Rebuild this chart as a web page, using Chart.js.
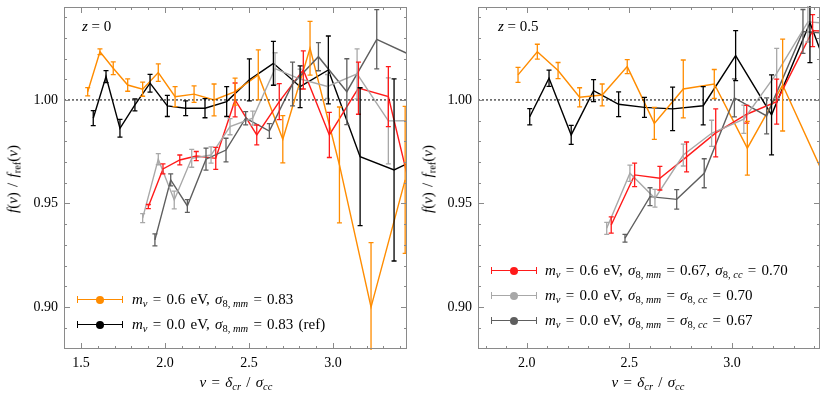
<!DOCTYPE html>
<html>
<head>
<meta charset="utf-8">
<script src="https://cdn.jsdelivr.net/npm/chart.js@4.4.1/dist/chart.umd.min.js"></script>
<style>
  body { margin: 0; background: #fff; }
  #wrap { position: relative; width: 826px; height: 398px; font-family: "Liberation Serif", "DejaVu Serif", serif; color: #000; }
  canvas { position: absolute; top: 0; }
  .lbl { position: absolute; font-size: 15px; line-height: 1; white-space: nowrap; word-spacing: 1.5px; }
  .lbl sub { font-size: 10.5px; vertical-align: -3px; line-height: 0; word-spacing: 0; }
  .rot { transform: translate(-50%, -50%) rotate(-90deg); }
  .ctr { transform: translate(-50%, -50%); }
  .mk { position: absolute; width: 46px; height: 8px; }
  .mk .ln { position: absolute; left: 0; right: 0; top: 3px; border-top: 1.3px solid; }
  .mk .cp { position: absolute; top: 0; height: 7px; border-left: 1.3px solid; }
  .mk .dot { position: absolute; left: 19px; top: 0; width: 8px; height: 8px; border-radius: 50%; }
</style>
</head>
<body>
<div id="wrap">
  <canvas id="left" width="413" height="398" style="left:0"></canvas>
  <canvas id="right" width="413" height="398" style="left:413px"></canvas>
</div>
<script>
// ---------------- DATA ----------------
// left panel, z = 0
const lOrangeX = [1.540, 1.613, 1.692, 1.778, 1.867, 1.960, 2.060, 2.173, 2.292, 2.417, 2.555, 2.701, 2.863, 3.038, 3.226, 3.429];
const lOrangeY = [1.0040, 1.0233, 1.0153, 1.0072, 1.0052, 1.0132, 1.0016, 1.0028, 1.0000, 1.0040, 1.0121, 0.9810, 1.0250, 0.9686, 0.8999, 0.9614];
const lOrangeE = [0.0020, 0.0014, 0.0031, 0.0030, 0.0034, 0.0042, 0.0048, 0.0040, 0.0077, 0.0065, 0.0121, 0.0114, 0.0130, 0.0280, 0.0312, 0.0355];

const lBlackX = [1.573, 1.649, 1.732, 1.821, 1.911, 2.014, 2.123, 2.238, 2.367, 2.502, 2.645, 2.804, 2.972, 3.161, 3.363, 3.520];
const lBlackY = [0.9912, 1.0113, 0.9863, 0.9976, 1.0081, 0.9971, 0.9960, 0.9960, 0.9992, 1.0097, 1.0177, 1.0064, 1.0145, 0.9726, 0.9662, 0.9722];
const lBlackE = [0.0036, 0.0029, 0.0043, 0.0029, 0.0043, 0.0051, 0.0036, 0.0046, 0.0072, 0.0101, 0.0106, 0.0101, 0.0164, 0.0333, 0.0440, 0];

const lRedX = [1.901, 1.988, 2.088, 2.186, 2.302, 2.417, 2.546, 2.680, 2.823, 2.978, 3.151, 3.329, 3.520];
const lRedY = [0.9485, 0.9667, 0.9710, 0.9729, 0.9718, 1.0000, 0.9831, 0.9992, 1.0145, 0.9831, 1.0057, 1.0016, 0.9370];
const lRedE = [0.0010, 0.0024, 0.0024, 0.0022, 0.0053, 0.0082, 0.0048, 0.0087, 0.0092, 0.0109, 0.0126, 0.0145, 0];

const lLightX = [1.867, 1.960, 2.055, 2.159, 2.274, 2.387, 2.522, 2.655, 2.804, 2.967, 3.143, 3.329, 3.480];
const lLightY = [0.9429, 0.9714, 0.9517, 0.9718, 0.9734, 0.9871, 0.9912, 1.0151, 1.0101, 1.0065, 1.0126, 0.9899, 0.9900];
const lLightE = [0.0022, 0.0027, 0.0043, 0.0043, 0.0039, 0.0039, 0.0034, 0.0077, 0.0048, 0.0058, 0.0121, 0.0208, 0];

const lDarkX = [1.940, 2.034, 2.133, 2.244, 2.363, 2.480, 2.621, 2.759, 2.913, 3.082, 3.260, 3.480];
const lDarkY = [0.9324, 0.9614, 0.9488, 0.9714, 0.9758, 0.9912, 0.9850, 1.0077, 1.0209, 1.0040, 1.0293, 1.0210];
const lDarkE = [0.0029, 0.0029, 0.0031, 0.0053, 0.0057, 0.0032, 0.0036, 0.0106, 0.0068, 0.0159, 0.0143, 0];

// right panel, z = 0.5
const rOrangeX = [1.958, 2.052, 2.153, 2.258, 2.368, 2.490, 2.622, 2.763, 2.914, 3.075, 3.247, 3.443];
const rOrangeY = [1.0121, 1.0233, 1.0142, 1.0013, 1.0024, 1.0161, 0.9887, 1.0053, 1.0077, 0.9767, 1.0072, 0.9647];
const rOrangeE = [0.0036, 0.0036, 0.0039, 0.0046, 0.0053, 0.0034, 0.0077, 0.0140, 0.0070, 0.0130, 0.0222, 0.0227];

const rBlackX = [2.015, 2.109, 2.217, 2.326, 2.448, 2.574, 2.711, 2.860, 3.018, 3.193, 3.380, 3.477];
const rBlackY = [0.9919, 1.0105, 0.9831, 1.0045, 0.9979, 0.9964, 0.9957, 0.9972, 1.0214, 0.9928, 1.0373, 1.0116];
const rBlackE = [0.0039, 0.0039, 0.0046, 0.0053, 0.0060, 0.0048, 0.0105, 0.0092, 0.0121, 0.0193, 0.0193, 0];

const rRedX = [2.412, 2.526, 2.649, 2.779, 2.921, 3.072, 3.218, 3.393, 3.500];
const rRedY = [0.9396, 0.9638, 0.9622, 0.9725, 0.9841, 0.9931, 0.9992, 1.0335, 1.0330];
const rRedE = [0.0039, 0.0057, 0.0057, 0.0072, 0.0116, 0.0043, 0.0109, 0.0077, 0];

const rLightX = [2.390, 2.503, 2.625, 2.763, 2.901, 3.058, 3.218, 3.370, 3.480];
const rLightY = [0.9380, 0.9646, 0.9525, 0.9734, 0.9839, 0.9907, 1.0128, 1.0377, 1.0370];
const rLightE = [0.0029, 0.0039, 0.0043, 0.0053, 0.0063, 0.0068, 0.0121, 0.0097, 0];

const rDarkX = [2.479, 2.601, 2.731, 2.865, 3.012, 3.169, 3.346, 3.477];
const rDarkY = [0.9332, 0.9533, 0.9520, 0.9646, 1.0010, 0.9923, 1.0331, 1.0320];
const rDarkE = [0.0019, 0.0043, 0.0047, 0.0070, 0.0092, 0.0087, 0.0106, 0];

const xTickVals = [1.5, 2.0, 2.5, 3.0];
const yTickVals = [0.90, 0.95, 1.00];

const ORANGE = "#ff8c00", BLACK = "#000000", RED = "#ff1a1a", LIGHT = "#a8a8a8", DARK = "#5e5e5e";

// ---------------- HELPERS ----------------

function pts(xs, ys) {
    return xs.map((x, i) => ({ x: x, y: ys[i] }));
}

function series(xs, ys, errs, color) {
    return {
        data: pts(xs, ys),
        errs: errs,
        borderColor: color,
        borderWidth: 1.4,
        pointRadius: 0,
        tension: 0,
        fill: false
    };
}

// error bars, frame and inward ticks
const decorations = {
    id: "decorations",
    afterDatasetsDraw(chart) {
        const { ctx, chartArea: a, scales: { x, y } } = chart;
        ctx.save();
        ctx.beginPath();
        ctx.rect(a.left, a.top - 1, a.right - a.left, a.bottom - a.top + 2);
        ctx.clip();
        chart.data.datasets.forEach(ds => {
            if (!ds.errs) return;
            ctx.strokeStyle = ds.borderColor;
            ctx.lineWidth = 1.3;
            ds.data.forEach((p, i) => {
                const e = ds.errs[i];
                if (!e) return;
                const px = x.getPixelForValue(p.x);
                const y1 = y.getPixelForValue(p.y + e);
                const y2 = y.getPixelForValue(p.y - e);
                ctx.beginPath();
                ctx.moveTo(px, y1); ctx.lineTo(px, y2);
                ctx.moveTo(px - 2.5, y1); ctx.lineTo(px + 2.5, y1);
                ctx.moveTo(px - 2.5, y2); ctx.lineTo(px + 2.5, y2);
                ctx.stroke();
            });
        });
        ctx.restore();

        ctx.save();
        ctx.strokeStyle = "#8a8a8a";
        ctx.lineWidth = 1;
        ctx.strokeRect(a.left + 0.5, a.top + 0.5, a.right - a.left - 1, a.bottom - a.top - 1);
        ctx.beginPath();
        for (let i = Math.ceil(x.min * 10); i <= Math.floor(x.max * 10); i++) {
            const px = Math.round(x.getPixelForValue(i / 10)) + 0.5;
            const len = i % 5 === 0 ? 6 : 3;
            ctx.moveTo(px, a.bottom); ctx.lineTo(px, a.bottom - len);
            ctx.moveTo(px, a.top); ctx.lineTo(px, a.top + len);
        }
        for (let i = Math.ceil(y.min * 100); i <= Math.floor(y.max * 100); i++) {
            const py = Math.round(y.getPixelForValue(i / 100)) + 0.5;
            const len = i % 5 === 0 ? 6 : 3;
            ctx.moveTo(a.left, py); ctx.lineTo(a.left + len, py);
            ctx.moveTo(a.right, py); ctx.lineTo(a.right - len, py);
        }
        ctx.stroke();
        ctx.restore();
    }
};

function makePanel(id, xmin, xmax, yAxisWidth, sets) {
    const font = { family: "'Liberation Serif', serif", size: 14 };
    const unity = {
        data: [{ x: xmin, y: 1 }, { x: xmax, y: 1 }],
        borderColor: "#000",
        borderWidth: 1,
        borderDash: [2, 2],
        pointRadius: 0
    };
    return new Chart(document.getElementById(id), {
        type: "line",
        data: { datasets: [unity].concat(sets) },
        options: {
            responsive: false,
            animation: false,
            layout: { padding: { top: 7, right: 6, left: 0, bottom: 0 } },
            plugins: { legend: { display: false }, tooltip: { enabled: false } },
            scales: {
                x: {
                    type: "linear", min: xmin, max: xmax,
                    grid: { display: false, drawTicks: false },
                    border: { display: false },
                    ticks: { font: font, color: "#000", padding: 6, maxRotation: 0, callback: v => v.toFixed(1) },
                    afterBuildTicks: s => {
                        s.ticks = xTickVals.filter(v => v >= xmin && v <= xmax).map(v => ({ value: v }));
                    },
                    afterFit: s => {
                        s.height = 49;
                        s.paddingLeft = 0; s.paddingRight = 0;
                    }
                },
                y: {
                    type: "linear", min: 0.8797, max: 1.0449,
                    grid: { display: false, drawTicks: false },
                    border: { display: false },
                    ticks: { font: font, color: "#000", padding: 6, callback: v => v.toFixed(2) },
                    afterBuildTicks: s => { s.ticks = yTickVals.map(v => ({ value: v })); },
                    afterFit: s => {
                        s.width = yAxisWidth;
                        s.paddingTop = 0; s.paddingBottom = 0;
                    }
                }
            }
        },
        plugins: [decorations]
    });
}

makePanel("left", 1.399, 3.440, 64, [
    series(lLightX, lLightY, lLightE, LIGHT),
    series(lDarkX, lDarkY, lDarkE, DARK),
    series(lRedX, lRedY, lRedE, RED),
    series(lOrangeX, lOrangeY, lOrangeE, ORANGE),
    series(lBlackX, lBlackY, lBlackE, BLACK)
]);

makePanel("right", 1.763, 3.429, 65, [
    series(rLightX, rLightY, rLightE, LIGHT),
    series(rDarkX, rDarkY, rDarkE, DARK),
    series(rRedX, rRedY, rRedE, RED),
    series(rOrangeX, rOrangeY, rOrangeE, ORANGE),
    series(rBlackX, rBlackY, rBlackE, BLACK)
]);

// ---------------- LABELS & LEGENDS ----------------

const wrap = document.getElementById("wrap");

function label(html, x, y, cls, extra) {
    const d = document.createElement("div");
    d.className = "lbl " + (cls || "");
    d.style.left = x + "px";
    d.style.top = y + "px";
    if (extra) d.style.cssText += extra;
    d.innerHTML = html;
    wrap.appendChild(d);
}

function marker(x, y, color) {
    const d = document.createElement("div");
    d.className = "mk";
    d.style.left = x + "px";
    d.style.top = (y - 4) + "px";
    d.innerHTML = `<div class="ln" style="border-color:${color}"></div>` +
        `<div class="cp" style="left:0;border-color:${color}"></div>` +
        `<div class="cp" style="right:0;border-color:${color}"></div>` +
        `<div class="dot" style="background:${color}"></div>`;
    wrap.appendChild(d);
}

const yTitle = "<i>f</i>(<i>ν</i>) / <i>f</i><sub>ref</sub>(<i>ν</i>)";
const xTitle = "<i>ν</i> = <i>δ</i><sub><i>cr</i></sub> / <i>σ</i><sub><i>cc</i></sub>";
label(yTitle, 13, 179, "rot");
label(yTitle, 428, 179, "rot");
label(xTitle, 236, 382, "ctr");
label(xTitle, 648, 382, "ctr");
label("<i>z</i> = 0", 82, 19, "", "word-spacing:0");
label("<i>z</i> = 0.5", 498, 19, "", "word-spacing:0");

const legendLeft = [
    [ORANGE, "<i>m</i><sub><i>ν</i></sub> = 0.6 eV, <i>σ</i><sub>8, <i>mm</i></sub> = 0.83"],
    [BLACK, "<i>m</i><sub><i>ν</i></sub> = 0.0 eV, <i>σ</i><sub>8, <i>mm</i></sub> = 0.83 (ref)"]
];
const legendRight = [
    [RED, "<i>m</i><sub><i>ν</i></sub> = 0.6 eV, <i>σ</i><sub>8, <i>mm</i></sub> = 0.67, <i>σ</i><sub>8, <i>cc</i></sub> = 0.70"],
    [LIGHT, "<i>m</i><sub><i>ν</i></sub> = 0.0 eV, <i>σ</i><sub>8, <i>mm</i></sub> = <i>σ</i><sub>8, <i>cc</i></sub> = 0.70"],
    [DARK, "<i>m</i><sub><i>ν</i></sub> = 0.0 eV, <i>σ</i><sub>8, <i>mm</i></sub> = <i>σ</i><sub>8, <i>cc</i></sub> = 0.67"]
];
legendLeft.forEach((e, i) => {
    const y = 300 + i * 25;
    marker(77, y, e[0]);
    label(e[1], 132, y - 8);
});
legendRight.forEach((e, i) => {
    const y = 271 + i * 25;
    marker(491, y, e[0]);
    label(e[1], 545, y - 8);
});
</script>
</body>
</html>
